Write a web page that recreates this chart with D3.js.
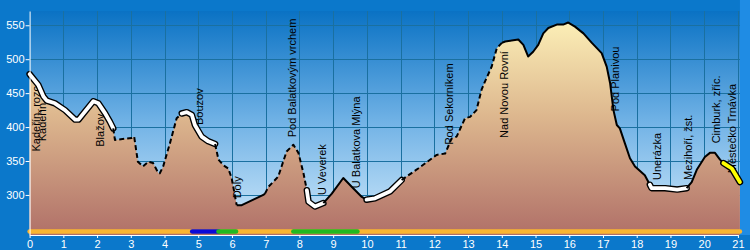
<!DOCTYPE html>
<html>
<head>
<meta charset="utf-8">
<script src="https://cdn.jsdelivr.net/npm/d3@7"></script>
<style>
    body { margin: 0; background: #0b78cb; }
    svg { display: block; font-family: Arial, "Liberation Sans", sans-serif; }
</style>
</head>
<body>
<div id="profile"></div>
<script>
// Osa x (km) a osa y (m n.m.)
const kmTicks = d3.range(0, 22)
const elevTicks = [300, 350, 400, 450, 500, 550]

// Výškový profil trasy
const profileKm = [0, 0.26, 0.41, 0.51, 0.75, 1.05, 1.35, 1.45, 1.89, 2.04, 2.23, 2.38, 2.48, 2.53, 3.03, 3.1,
    3.21, 3.36, 3.52, 3.66, 3.82, 3.86, 3.96, 4.16, 4.36, 4.51, 4.66, 4.81, 4.9, 5.1, 5.3, 5.5, 5.6, 5.74, 5.89, 5.99,
    6.14, 6.29, 6.93, 6.98, 7.08, 7.18, 7.37, 7.47, 7.62, 7.82, 7.97, 8.12, 8.22, 8.27, 8.46, 8.71, 8.96, 9.3, 9.55,
    9.85, 9.99, 10.24, 10.68, 11.03, 11.52, 12.07, 12.32, 12.51, 12.66, 12.91, 13.06, 13.25, 13.4, 13.5, 13.7, 13.85,
    14.0, 14.1, 14.49, 14.64, 14.78, 14.93, 15.08, 15.23, 15.38, 15.63, 15.82, 15.97, 16.17, 16.42, 16.67, 16.96,
    17.11, 17.21, 17.31, 17.41, 17.5, 17.65, 17.8, 17.95, 18.24, 18.39, 18.44, 18.84, 19.2, 19.48, 19.63, 19.78,
    20.02, 20.17, 20.32, 20.47, 20.57, 20.82, 21.06]
const profileElev = [478, 462, 445, 439, 435, 425, 411, 411, 438, 435, 421, 408, 398, 381, 384, 386,
    349, 342, 349, 347, 332, 332, 342, 376, 413, 420, 422, 418, 403, 386, 379, 375, 352, 344, 339, 325,
    285, 285, 300, 302, 312, 317, 327, 342, 364, 374, 362, 332, 307, 290, 283, 288, 302, 325, 312,
    297, 293, 295, 305, 322, 339, 359, 361, 383, 386, 413, 415, 425, 455, 467, 489, 516,
    524, 526, 529, 521, 504, 511, 521, 538, 546, 551, 551, 554, 548, 538, 524, 509,
    489, 465, 425, 403, 398, 376, 354, 342, 329, 315, 310, 310, 308, 310, 319, 337,
    356, 362, 362, 352, 347, 339, 319]

// Typ čáry po úsecích
const segFrom = [0, 2.48, 4.51, 5.5, 6.14, 6.98, 8.22, 8.71, 9.99, 11.03, 14.0, 18.39, 19.48, 20.57]
const segTo = [2.48, 4.51, 5.5, 6.14, 6.98, 8.22, 8.71, 9.99, 11.03, 14.0, 18.39, 19.48, 20.57, 21.06]
const segStyle = ["white", "dash", "white", "dash", "solid", "dash", "white", "solid", "white", "dash", "solid", "white", "solid", "yellow"]

// Barevný pruh pod profilem
const barFrom = [0, 4.82, 5.6, 7.82]
const barTo = [21.06, 5.6, 6.12, 9.72]
const barColor = ["#f9b531", "#0a0ad8", "#22b822", "#22b822"]

// Názvy míst
const placeNames = ["Kadeřín, rozc.", "Kadeřín", "Blažov", "Bouzov", "Doly", "Pod Balatkovým vrchem", "U Veverek",
    "U Balatkova Mlýna", "Pod Sekorníkem", "Nad Novou Rovní", "Pod Planivou", "Unerázka", "Mezihoří, žst.",
    "Cimburk, zříc.", "Městečko Trnávka"]
const placeKm = [0.31, 0.5, 2.21, 5.13, 6.28, 7.91, 8.79, 9.8, 12.55, 14.18, 17.47, 18.72, 19.64, 20.47, 20.95]
const placeElev = [364, 379, 371, 403, 295, 385, 300, 310, 374, 384, 423, 322, 322, 376, 332]

const width = 750
const height = 250

const x = d3.scaleLinear().domain([0, 21]).range([29.6, 737.9])
const y = d3.scaleLinear().domain([241, 571]).range([235, 11])

const points = profileKm.map((km, i) => ({km: km, elev: profileElev[i]}))

const svg = d3.select("#profile")
              .append("svg")
              .attr("width", width)
              .attr("height", height)

const defs = svg.append("defs")

const skyGrad = defs.append("linearGradient")
                    .attr("id", "sky")
                    .attr("gradientUnits", "userSpaceOnUse")
                    .attr("x1", 0).attr("x2", 0)
                    .attr("y1", y(571)).attr("y2", y(241))
skyGrad.append("stop").attr("offset", 0).attr("stop-color", "#0a72c4")
skyGrad.append("stop").attr("offset", 0.5).attr("stop-color", "#72b3e6")
skyGrad.append("stop").attr("offset", 1).attr("stop-color", "#d2eafb")

const groundGrad = defs.append("linearGradient")
                       .attr("id", "ground")
                       .attr("gradientUnits", "userSpaceOnUse")
                       .attr("x1", 0).attr("x2", 0)
                       .attr("y1", y(560)).attr("y2", y(241))
groundGrad.append("stop").attr("offset", 0).attr("stop-color", "#fdf1b8")
groundGrad.append("stop").attr("offset", 0.45).attr("stop-color", "#ddb78e")
groundGrad.append("stop").attr("offset", 1).attr("stop-color", "#b07068")

// pravý okraj je světlejší
svg.append("rect")
   .attr("x", x(21.06)).attr("y", 0)
   .attr("width", width - x(21.06)).attr("height", y(241))
   .attr("fill", "#1f8ce4")

// pozadí grafu
svg.append("rect")
   .attr("x", x(0)).attr("y", y(571))
   .attr("width", x(21.06) - x(0)).attr("height", y(241) - y(571))
   .attr("fill", "url(#sky)")

// mřížka
const grid = svg.append("g").attr("stroke", "#1a70a0").attr("stroke-width", 1)
grid.selectAll(".vgrid")
    .data(kmTicks.filter(d => d > 0))
    .join("line")
    .attr("x1", d => Math.round(x(d)) + 0.5).attr("x2", d => Math.round(x(d)) + 0.5)
    .attr("y1", y(571)).attr("y2", y(241))
grid.selectAll(".hgrid")
    .data(elevTicks)
    .join("line")
    .attr("x1", x(0)).attr("x2", x(21.06))
    .attr("y1", d => Math.round(y(d)) + 0.5).attr("y2", d => Math.round(y(d)) + 0.5)

// plocha profilu
const area = d3.area()
               .x(d => x(d.km))
               .y0(y(241))
               .y1(d => y(d.elev))
svg.append("path")
   .datum(points)
   .attr("d", area)
   .attr("fill", "url(#ground)")

// názvy míst
svg.append("g")
   .selectAll("text")
   .data(placeNames)
   .join("text")
   .attr("transform", (d, i) => `translate(${x(placeKm[i])}, ${y(placeElev[i])}) rotate(-90)`)
   .attr("font-size", 11)
   .attr("fill", "#000")
   .text(d => d)

// čára profilu po úsecích
const line = d3.line().x(d => x(d.km)).y(d => y(d.elev))
for (let i = 0; i < segStyle.length; i++) {
    const pts = points.filter(p => p.km >= segFrom[i] && p.km <= segTo[i])
    const style = segStyle[i]
    if (style === "white" || style === "yellow") {
        svg.append("path").datum(pts).attr("d", line)
           .attr("fill", "none").attr("stroke", "#000").attr("stroke-width", 6.5)
           .attr("stroke-linejoin", "round").attr("stroke-linecap", "round")
        svg.append("path").datum(pts).attr("d", line)
           .attr("fill", "none").attr("stroke", style === "white" ? "#fff" : "#ffff00")
           .attr("stroke-width", 3.8)
           .attr("stroke-linejoin", "round").attr("stroke-linecap", "round")
    } else {
        svg.append("path").datum(pts).attr("d", line)
           .attr("fill", "none").attr("stroke", "#000").attr("stroke-width", 2)
           .attr("stroke-dasharray", style === "dash" ? "5,3" : null)
           .attr("stroke-linejoin", "round")
    }
}

// barevný pruh
svg.append("g")
   .selectAll("line")
   .data(barColor)
   .join("line")
   .attr("x1", (d, i) => x(barFrom[i])).attr("x2", (d, i) => x(barTo[i]))
   .attr("y1", 231.5).attr("y2", 231.5)
   .attr("stroke", d => d)
   .attr("stroke-width", 4.5)
   .attr("stroke-linecap", "round")

// osy
const xAxis = svg.append("g")
                 .attr("transform", `translate(0, ${y(241)})`)
                 .call(d3.axisBottom(x).tickValues(kmTicks).tickSize(3).tickSizeOuter(0).tickPadding(2))
const yAxis = svg.append("g")
                 .attr("transform", `translate(${x(0)}, 0)`)
                 .call(d3.axisLeft(y).tickValues(elevTicks).tickSize(4).tickSizeOuter(0).tickPadding(1))

for (const ax of [xAxis, yAxis]) {
    ax.select(".domain").attr("stroke", "#fff")
    ax.selectAll(".tick line").attr("stroke", "#fff")
    ax.selectAll(".tick text")
      .attr("fill", "#fff")
      .attr("font-size", 11)
      .attr("font-family", "Arial, 'Liberation Sans', sans-serif")
}
</script>
</body>
</html>
